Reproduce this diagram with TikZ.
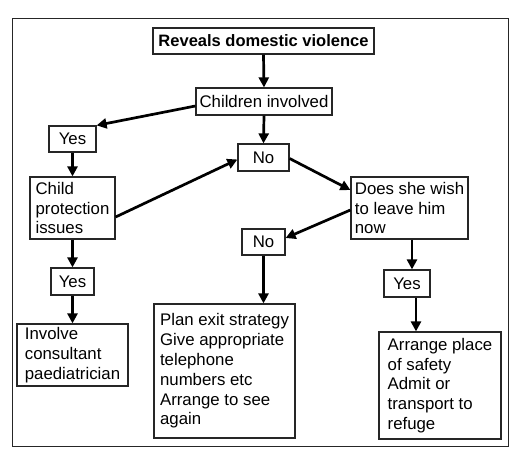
\documentclass[tikz,border=0pt]{standalone}
\usepackage{fontspec}
\setmainfont{Liberation Sans}
\usetikzlibrary{arrows.meta}
\begin{document}
\begin{tikzpicture}[x=1pt,y=-1pt,
  box/.style={draw=black!85,line width=1.2pt,align=left,inner sep=0pt,
    font=\fontsize{16.8}{19.8}\selectfont},
  arr/.style={line width=2.7pt,-{Triangle[length=10pt,width=10pt]}}]
\useasboundingbox (0,0) rectangle (520,460);
\draw[line width=1pt,black!85] (12,19) rectangle (508,446);
\node[box,minimum width=221pt,minimum height=26pt,font=\fontsize{16.5}{19.8}\selectfont\bfseries] (rev) at (263.5,41) {Reveals domestic violence};
\node[box,minimum width=136pt,minimum height=27pt] (chi) at (264,101.5) {Children involved};
\node[box,minimum width=47pt,minimum height=26pt] (yes1) at (72.5,139) {Yes};
\node[box,minimum width=51pt,minimum height=27pt] (no1) at (263.5,157.5) {No};
\node[box,minimum width=85pt,minimum height=62pt] (cp) at (72.5,208) {Child\\protection\\issues};
\node[box,minimum width=117pt,minimum height=62pt] (does) at (409.5,208) {Does she wish\\to leave him\\now};
\node[box,minimum width=43pt,minimum height=26pt] (no2) at (263.5,242) {No};
\node[box,minimum width=43pt,minimum height=27pt] (yes2) at (72.5,281.5) {Yes};
\node[box,minimum width=46pt,minimum height=27pt] (yes3) at (407,283.5) {Yes};
\node[box,minimum width=111pt,minimum height=62pt] (inv) at (72.5,355) {Involve\\consultant\\paediatrician};
\node[box,minimum width=141pt,minimum height=134pt] (plan) at (224.5,371) {Plan exit strategy\\Give appropriate\\telephone\\numbers etc\\Arrange to see\\again};
\node[box,minimum width=122pt,minimum height=107pt] (arrn) at (440,385.5) {Arrange place\\of safety\\Admit or\\transport to\\refuge};
\draw[arr] (rev.south) -- (chi.north);
\draw[arr] ([yshift=-4.5pt]chi.west) -- (yes1.north east);
\draw[arr] (chi.south) -- (no1.north);
\draw[arr] (yes1.south) -- (cp.north);
\draw[arr] ([yshift=-9pt]cp.east) -- ([yshift=-2pt]no1.west);
\draw[arr] ([yshift=-1pt]no1.east) -- ([yshift=18pt]does.west);
\draw[arr] ([yshift=-2pt]does.west) -- ([yshift=4pt]no2.east);
\draw[arr] (no2.south) -- (no2.south |- plan.north);
\draw[arr] (cp.south) -- (yes2.north);
\draw[arr] (yes2.south) -- (inv.north);
\draw[arr] ([xshift=2.5pt]does.south) -- ([xshift=2.5pt]does.south |- yes3.north);
\draw[arr] ([xshift=9pt]yes3.south) -- ([xshift=9pt]yes3.south |- arrn.north);
\end{tikzpicture}
\end{document}
